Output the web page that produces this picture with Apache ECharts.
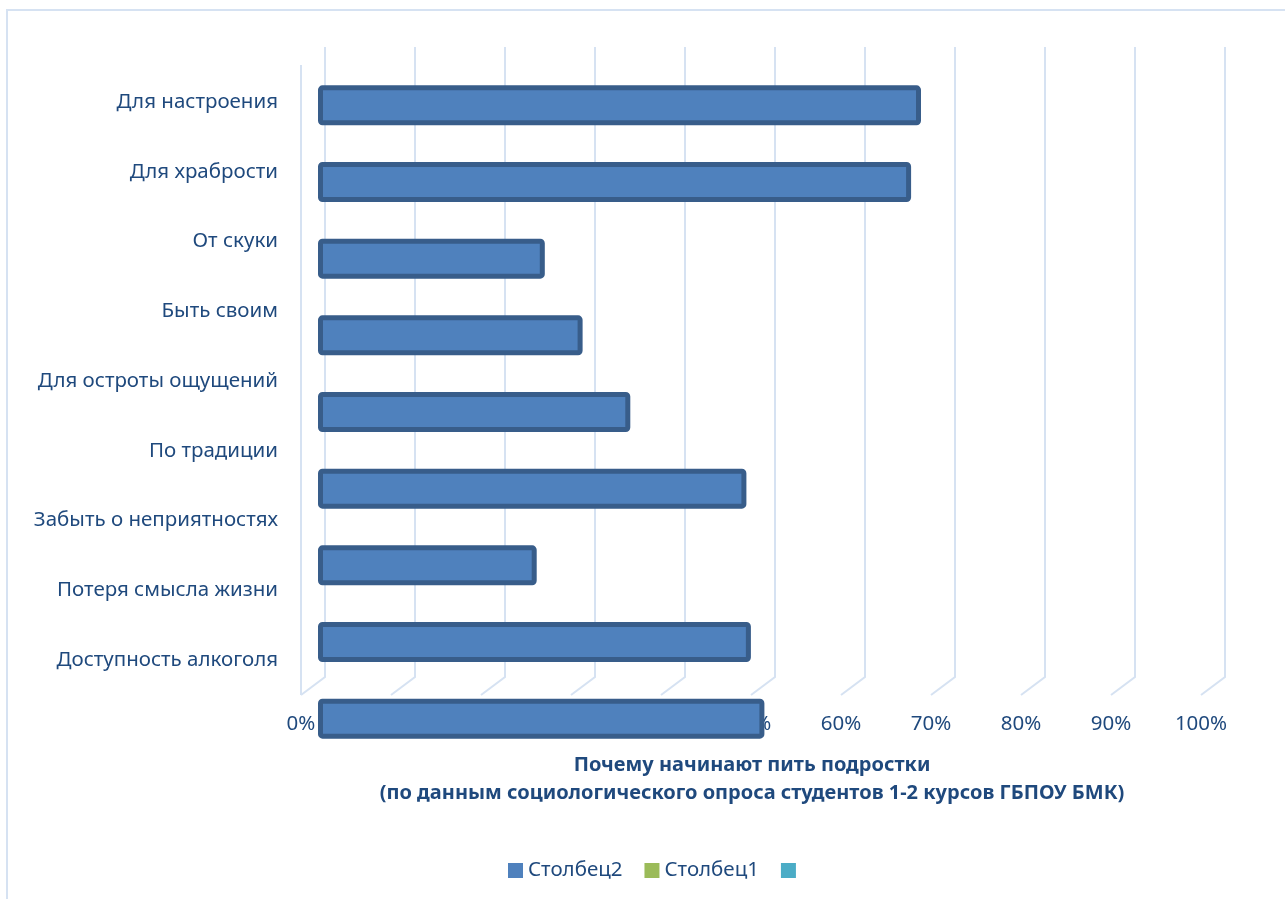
<!DOCTYPE html>
<html>
<head>
<meta charset="utf-8">
<script src="https://cdn.jsdelivr.net/npm/echarts@6/dist/echarts.min.js"></script>
<style>
  html, body { margin: 0; padding: 0; background: #ffffff; }
  #chart { width: 1285px; height: 899px; }
</style>
</head>
<body>
<div id="chart"></div>
<script>
// Reasons, top to bottom
const categories = [
  'Для настроения',
  'Для храбрости',
  'От скуки',
  'Быть своим',
  'Для остроты ощущений',
  'По традиции',
  'Забыть о неприятностях',
  'Потеря смысла жизни',
  'Доступность алкоголя'
];
// Share of answers, percent ("Столбец2")
const столбец2 = [67.0, 65.9, 25.2, 29.4, 34.7, 47.6, 24.3, 48.1, 49.6];
// Percent ticks of the value axis
const percentTicks = [0, 10, 20, 30, 40, 50, 60, 70, 80, 90, 100];
const legendNames = ['Столбец2', 'Столбец1', ' '];
const titleLines = [
  'Почему начинают пить подростки',
  '(по данным социологического опроса студентов 1-2 курсов ГБПОУ БМК)'
];

const TEXT = '#1f497d';
const GRID_LINE = '#d6e2f2';
const FONT = 'Noto Sans';
const FONT_SIZE = 20.5;
// depth of the 3-D wall behind the bars
const DEPTH_X = 24, DEPTH_Y = 18;

const chart = echarts.init(document.getElementById('chart'), null, { renderer: 'canvas' });

chart.setOption({
  backgroundColor: '#ffffff',
  animation: false,
  textStyle: { fontFamily: FONT, color: TEXT },
  legend: {
    data: legendNames,
    left: 508,
    top: 860,
    padding: 0,
    icon: 'rect',
    itemWidth: 15,
    itemHeight: 15,
    itemGap: 22,
    itemStyle: { borderWidth: 0 },
    textStyle: { fontFamily: FONT, fontSize: FONT_SIZE, color: TEXT }
  },
  graphic: [{
    type: 'rect',
    z: -10,
    shape: { x: 7, y: 10, width: 2000, height: 2000 },
    style: { fill: 'none', stroke: GRID_LINE, lineWidth: 2 }
  }, {
    type: 'group',
    x: 752,
    y: 765,
    children: titleLines.map((t, i) => ({
      type: 'text',
      y: i * 28,
      style: {
        text: t,
        fill: TEXT,
        font: 'bold 20px "' + FONT + '"',
        textAlign: 'center',
        textVerticalAlign: 'middle'
      }
    }))
  }],
  grid: [
    // front plane: category labels and percent axis
    { left: 301, width: 900, top: 67, height: 628 },
    // bar plane
    { left: 318, width: 900, top: 67, height: 690 }
  ],
  xAxis: [{
    gridIndex: 0,
    type: 'value',
    min: 0, max: 100, interval: 10,
    axisLine: { show: false },
    axisTick: { show: false },
    splitLine: { show: false },
    axisLabel: {
      formatter: '{value}%', margin: 19,
      fontFamily: FONT, fontSize: FONT_SIZE, color: TEXT
    }
  }, {
    gridIndex: 1,
    type: 'value',
    min: 0, max: 100,
    show: false
  }],
  yAxis: [{
    gridIndex: 0,
    type: 'category',
    data: categories,
    inverse: true,
    axisLine: { show: false },
    axisTick: { show: false },
    splitLine: { show: false },
    axisLabel: { margin: 23, fontFamily: FONT, fontSize: FONT_SIZE, color: TEXT }
  }, {
    gridIndex: 1,
    type: 'category',
    data: categories,
    inverse: true,
    show: false
  }],
  series: [{
    // wall and floor grid lines, one per percent tick
    type: 'custom',
    xAxisIndex: 0, yAxisIndex: 0,
    silent: true,
    z: 1,
    data: percentTicks.map(v => [v, 0]),
    renderItem: function (params, api) {
      const cs = params.coordSys;
      const x = api.coord([api.value(0), 0])[0];
      const bottom = cs.y + cs.height;
      const top = cs.y - DEPTH_Y - 2;
      const children = [{
        type: 'polyline',
        shape: { points: [[x, bottom], [x + DEPTH_X, bottom - DEPTH_Y], [x + DEPTH_X, top]] },
        style: { stroke: GRID_LINE, lineWidth: 2, fill: null }
      }];
      if (params.dataIndex === 0) {
        children.push({
          type: 'line',
          shape: { x1: x, y1: bottom, x2: x, y2: top + DEPTH_Y },
          style: { stroke: GRID_LINE, lineWidth: 2 }
        });
      }
      return { type: 'group', children: children };
    }
  }, {
    name: 'Столбец2',
    type: 'bar',
    xAxisIndex: 1, yAxisIndex: 1,
    z: 3,
    data: столбец2,
    barWidth: 40,
    itemStyle: {
      color: '#4f81bd',
      borderColor: '#385d8a',
      borderWidth: 5,
      borderRadius: 2
    }
  }, {
    name: 'Столбец1',
    type: 'line',
    xAxisIndex: 1, yAxisIndex: 1,
    data: [],
    itemStyle: { color: '#9bbb59' }
  }, {
    name: ' ',
    type: 'line',
    xAxisIndex: 1, yAxisIndex: 1,
    data: [],
    itemStyle: { color: '#4bacc6' }
  }]
});
</script>
</body>
</html>
